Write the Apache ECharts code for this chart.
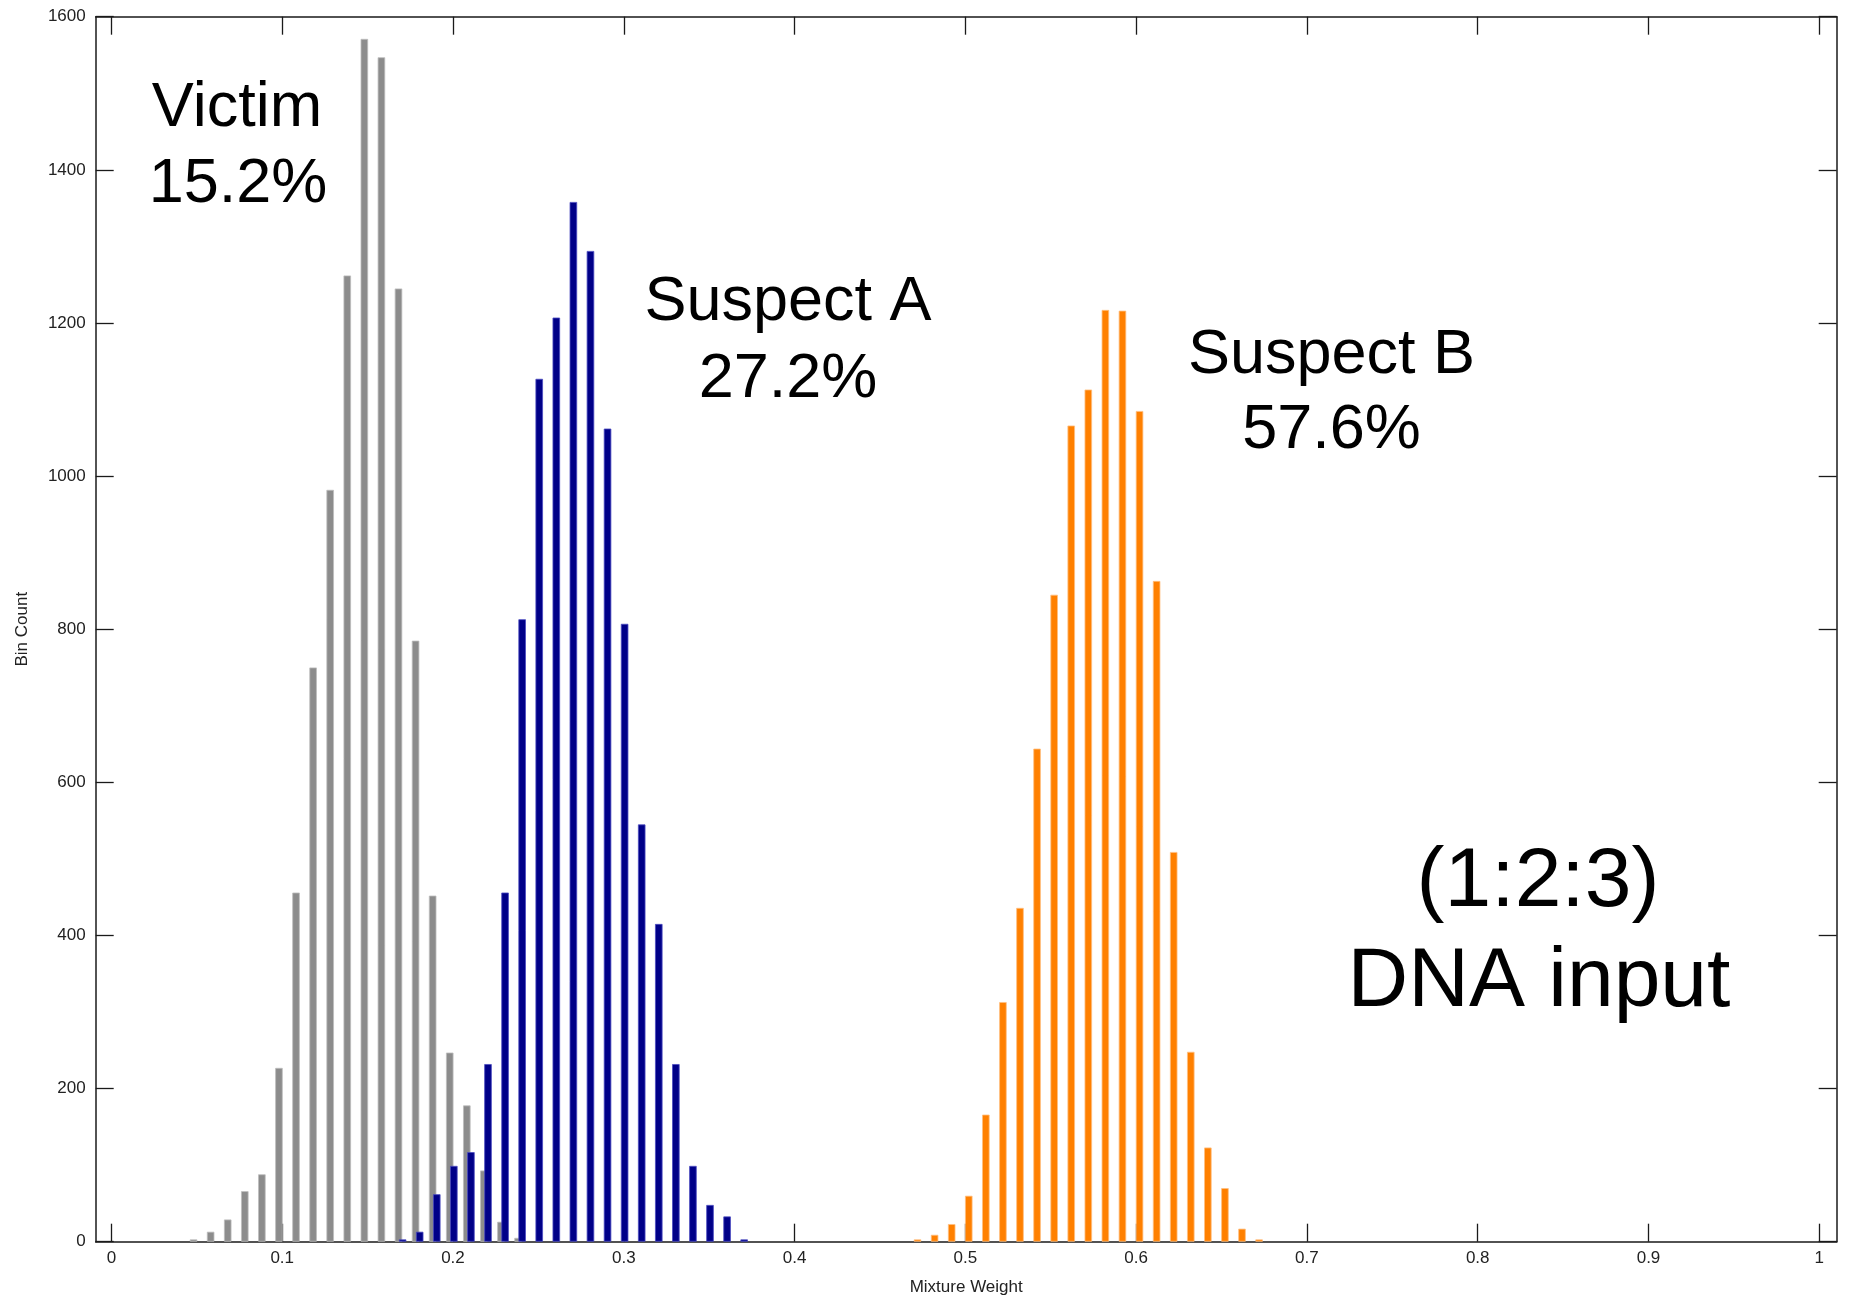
<!DOCTYPE html>
<html>
<head>
<meta charset="utf-8">
<script src="https://cdn.jsdelivr.net/npm/echarts@6/dist/echarts.min.js"></script>
<style>
html,body{margin:0;padding:0;background:#fff;}
#chart{width:1851px;height:1301px;}
</style>
</head>
<body>
<div id="chart"></div>
<script>
// Bin centers (Mixture Weight) and bin counts
const victimX = [0.0481,0.0581,0.0681,0.0781,0.0881,0.0981,0.1081,0.1181,0.1281,0.1381,0.1481,0.1581,0.1681,0.1781,0.1881,0.1981,0.2081,0.2181,0.2281,0.2381];
const victimY = [3,13,29,66,88,227,456,750,982,1262,1571,1547,1245,785,452,247,178,93,26,5];

const suspectAX = [0.1705,0.1805,0.1905,0.2005,0.2105,0.2205,0.2305,0.2405,0.2505,0.2605,0.2705,0.2805,0.2905,0.3005,0.3105,0.3205,0.3305,0.3405,0.3505,0.3605,0.3705];
const suspectAY = [3,13,62,99,117,232,456,813,1127,1207,1358,1294,1062,807,545,415,232,99,48,33,3];

const suspectBX = [0.4720,0.4820,0.4920,0.5020,0.5120,0.5220,0.5320,0.5420,0.5520,0.5620,0.5720,0.5820,0.5920,0.6020,0.6120,0.6220,0.6320,0.6420,0.6520,0.6620,0.6720];
const suspectBY = [3,9,23,60,166,313,436,644,845,1066,1113,1217,1216,1085,863,509,248,123,70,17,3];

const xTicks = [0,0.1,0.2,0.3,0.4,0.5,0.6,0.7,0.8,0.9,1];
const xTickLabels = ['0','0.1','0.2','0.3','0.4','0.5','0.6','0.7','0.8','0.9','1'];

function pairs(xs, ys){ return xs.map((x,i)=>[x, ys[i]]); }

const chart = echarts.init(document.getElementById('chart'), null, {renderer:'canvas'});
const FONT = "'Liberation Sans', Arial, sans-serif";
const lineStyle = {color:'#1a1a1a', width:1.5};
const tickStyle = {color:'#1a1a1a', width:1.3};

const barCommon = {
  type:'bar', barWidth:7.5, barGap:'-100%', xAxisIndex:0, yAxisIndex:0,
  animation:false, silent:true
};

chart.setOption({
  backgroundColor:'#fff',
  animation:false,
  grid:{left:95.7, right:14.3, top:16.7, bottom:59.3, containLabel:false},
  xAxis:[
    {type:'value', position:'bottom', min:-0.0092, max:1.0102,
     axisLine:{show:true, onZero:false, lineStyle:lineStyle},
     axisTick:{show:true, inside:true, length:18, lineStyle:tickStyle, customValues:xTicks},
     axisLabel:{show:true, margin:8, color:'#222', fontFamily:FONT, fontSize:17,
       customValues:xTicks,
       formatter:function(v){ const i = xTicks.findIndex(t=>Math.abs(t-v)<1e-9); return i>=0?xTickLabels[i]:''; }},
     splitLine:{show:false},
     name:'Mixture Weight', nameLocation:'middle', nameGap:37,
     nameTextStyle:{color:'#222', fontFamily:FONT, fontSize:17}},
    {type:'value', position:'top', min:-0.0092, max:1.0102,
     axisLine:{show:true, onZero:false, lineStyle:lineStyle},
     axisTick:{show:true, inside:true, length:18, lineStyle:tickStyle, customValues:xTicks},
     axisLabel:{show:false}, splitLine:{show:false}}
  ],
  yAxis:[
    {type:'value', position:'left', min:0, max:1600, interval:200,
     axisLine:{show:true, onZero:false, lineStyle:lineStyle},
     axisTick:{show:true, inside:true, length:18, lineStyle:tickStyle},
     axisLabel:{show:true, margin:10, color:'#222', fontFamily:FONT, fontSize:17,
       formatter:function(v){ return String(v); }},
     splitLine:{show:false},
     name:'Bin Count', nameLocation:'middle', nameGap:65, nameRotate:90,
     nameTextStyle:{color:'#222', fontFamily:FONT, fontSize:17}},
    {type:'value', position:'right', min:0, max:1600, interval:200,
     axisLine:{show:true, onZero:false, lineStyle:lineStyle},
     axisTick:{show:true, inside:true, length:18, lineStyle:tickStyle},
     axisLabel:{show:false}, splitLine:{show:false}}
  ],
  series:[
    Object.assign({}, barCommon, {name:'Victim', data:pairs(victimX, victimY),
      itemStyle:{color:'#8c8c8c', borderColor:'#bdbdbd', borderWidth:0.8}}),
    Object.assign({}, barCommon, {name:'Suspect A', data:pairs(suspectAX, suspectAY),
      itemStyle:{color:'#000088', borderColor:'#4a4ac0', borderWidth:0.8}}),
    Object.assign({}, barCommon, {name:'Suspect B', data:pairs(suspectBX, suspectBY),
      itemStyle:{color:'#ff8000', borderColor:'#ffbf80', borderWidth:0.8}})
  ],
  graphic:[
    {type:'text', x:237, y:109, style:{text:'Victim', font:"63px "+FONT, fill:'#000', align:'center', verticalAlign:'middle'}},
    {type:'text', x:238, y:185, style:{text:'15.2%', font:"63px "+FONT, fill:'#000', align:'center', verticalAlign:'middle'}},
    {type:'text', x:788, y:303, style:{text:'Suspect A', font:"63px "+FONT, fill:'#000', align:'center', verticalAlign:'middle'}},
    {type:'text', x:788, y:379.5, style:{text:'27.2%', font:"63px "+FONT, fill:'#000', align:'center', verticalAlign:'middle'}},
    {type:'text', x:1331.5, y:356, style:{text:'Suspect B', font:"63px "+FONT, fill:'#000', align:'center', verticalAlign:'middle'}},
    {type:'text', x:1331.5, y:431, style:{text:'57.6%', font:"63px "+FONT, fill:'#000', align:'center', verticalAlign:'middle'}},
    {type:'text', x:1538, y:883, style:{text:'(1:2:3)', font:"84px "+FONT, fill:'#000', align:'center', verticalAlign:'middle'}},
    {type:'text', x:1539, y:983, style:{text:'DNA input', font:"84px "+FONT, fill:'#000', align:'center', verticalAlign:'middle'}}
  ]
});
</script>
</body>
</html>
